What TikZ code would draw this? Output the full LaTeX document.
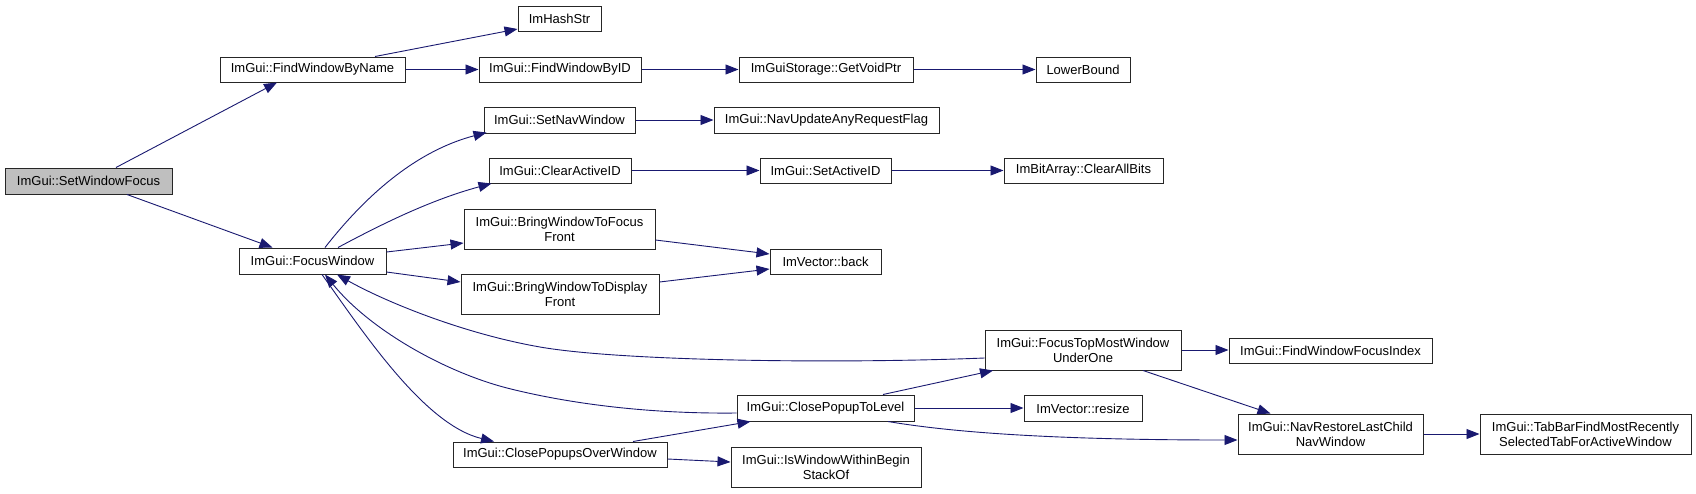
\documentclass[tikz,border=0pt]{standalone}
\usepackage{fontspec}
\setmainfont{Liberation Sans}
\usetikzlibrary{arrows.meta,calc}
\definecolor{edgeblue}{RGB}{25,25,112}
\definecolor{nodegray}{RGB}{191,191,191}
\begin{document}
\begin{tikzpicture}[x=1pt,y=-1pt,
  box/.style={draw=black!85, line width=1pt, rectangle, inner sep=0pt, align=center,
    font=\fontsize{13}{15}\selectfont, fill=white},
  e/.style={draw=edgeblue, line width=0.9pt, -{Triangle[length=13pt,width=10pt]}, fill=none}]
\useasboundingbox (0,0) rectangle (1696,493);
% nodes
\node[box, fill=nodegray, minimum width=167pt, minimum height=26pt] (swf) at (88.5,181) {ImGui::SetWindowFocus};
\node[box, minimum width=185pt, minimum height=25pt] (fwbn) at (312.5,69.5) {ImGui::FindWindowByName};
\node[box, minimum width=147pt, minimum height=26pt] (fw) at (312.5,261) {ImGui::FocusWindow};
\node[box, minimum width=83pt, minimum height=25pt] (hash) at (559.5,18.5) {ImHashStr};
\node[box, minimum width=162pt, minimum height=25pt] (fwbid) at (560,69.5) {ImGui::FindWindowByID};
\node[box, minimum width=174pt, minimum height=25pt] (gvp) at (826,69.5) {ImGuiStorage::GetVoidPtr};
\node[box, minimum width=94pt, minimum height=25pt] (lb) at (1083,69.5) {LowerBound};
\node[box, minimum width=151pt, minimum height=26pt] (snw) at (559.5,120) {ImGui::SetNavWindow};
\node[box, minimum width=225pt, minimum height=26pt] (nuarf) at (826.5,120) {ImGui::NavUpdateAnyRequestFlag};
\node[box, minimum width=142pt, minimum height=25pt] (caid) at (560,170.5) {ImGui::ClearActiveID};
\node[box, minimum width=131pt, minimum height=25pt] (said) at (825.5,170.5) {ImGui::SetActiveID};
\node[box, minimum width=159pt, minimum height=25pt] (cab) at (1083.5,170.5) {ImBitArray::ClearAllBits};
\node[box, minimum width=191pt, minimum height=40pt] (bwtff) at (559.5,229) {ImGui::BringWindowToFocus\\Front};
\node[box, minimum width=111pt, minimum height=25pt] (back) at (825.5,261.5) {ImVector::back};
\node[box, minimum width=198pt, minimum height=40pt] (bwtdf) at (560,294) {ImGui::BringWindowToDisplay\\Front};
\node[box, minimum width=196pt, minimum height=40pt] (ftm) at (1083,350) {ImGui::FocusTopMostWindow\\UnderOne};
\node[box, minimum width=203pt, minimum height=25pt] (fwfi) at (1330.5,350.5) {ImGui::FindWindowFocusIndex};
\node[box, minimum width=177pt, minimum height=26pt] (cptl) at (825.5,408) {ImGui::ClosePopupToLevel};
\node[box, minimum width=118pt, minimum height=26pt] (resize) at (1083,408.5) {ImVector::resize};
\node[box, minimum width=185pt, minimum height=40pt] (nrlc) at (1330.5,434) {ImGui::NavRestoreLastChild\\NavWindow};
\node[box, minimum width=211pt, minimum height=40pt] (tab) at (1585.5,434) {ImGui::TabBarFindMostRecently\\SelectedTabForActiveWindow};
\node[box, minimum width=214pt, minimum height=25pt] (cpow) at (560,454.5) {ImGui::ClosePopupsOverWindow};
\node[box, minimum width=190pt, minimum height=40pt] (iww) at (826,467) {ImGui::IsWindowWithinBegin\\StackOf};
% edges
\draw[e] ($(swf.north)+(27.5,0)$) -- ($(fwbn.south)+(-35.5,0)$);
\draw[e] ($(swf.south)+(38.5,0)$) -- ($(fw.north)+(-40,0)$);
\draw[e] ($(fwbn.north)+(62.5,0)$) -- ($(hash.west)+(0,10.5)$);
\draw[e] (fwbn.east) -- (fwbid.west);
\draw[e] (fwbid.east) -- (gvp.west);
\draw[e] (gvp.east) -- (lb.west);
\draw[e] ($(fw.north)+(12.5,0)$) .. controls (370,190) and (420,150) .. ($(snw.south west)+(3,-1)$);
\draw[e] ($(fw.north)+(25.5,0)$) .. controls (380,225) and (430,200) .. ($(caid.south west)+(3,0)$);
\draw[e] ($(fw.east)+(0,-9)$) -- ($(bwtff.west)+(0,14)$);
\draw[e] ($(fw.east)+(0,11)$) -- ($(bwtdf.west)+(0,-12)$);
\draw[e] ($(fw.south)+(9.5,0)$) .. controls (365,335) and (425,425) .. ($(cpow.north)+(-66,0)$);
\draw[e] ($(ftm.west)+(0,8)$) .. controls (835,364) and (620,361) .. (540,347)
   .. controls (460,333) and (382,300) .. ($(fw.south)+(24.5,0)$);
\draw[e] ($(cptl.west)+(0,5)$) .. controls (650,414) and (570,404) .. (507,388)
   .. controls (445,372) and (370,330) .. ($(fw.south)+(12.5,0)$);
\draw[e] ($(cpow.north)+(73,0)$) -- ($(cptl.south)+(-75,0)$);
\draw[e] ($(cpow.east)+(0,4.5)$) -- ($(iww.west)+(0,-5)$);
\draw[e] (cptl.east) -- (cptl.east -| resize.west);
\draw[e] ($(cptl.north)+(57.5,0)$) -- ($(ftm.south)+(-90,0)$);
\draw[e] ($(cptl.south)+(62.5,0)$) .. controls (950,432) and (1050,440) .. ($(nrlc.west)+(0,6)$);
\draw[e] (ftm.east) -- (ftm.east -| fwfi.west);
\draw[e] ($(ftm.south)+(60,0)$) -- ($(nrlc.north)+(-60,0)$);
\draw[e] (nrlc.east) -- (tab.west);
\draw[e] (snw.east) -- (nuarf.west);
\draw[e] (caid.east) -- (said.west);
\draw[e] (said.east) -- (cab.west);
\draw[e] ($(bwtff.east)+(0,11)$) -- ($(back.west)+(0,-7.5)$);
\draw[e] ($(bwtdf.east)+(0,-12)$) -- ($(back.west)+(0,7.5)$);
\end{tikzpicture}
\end{document}
